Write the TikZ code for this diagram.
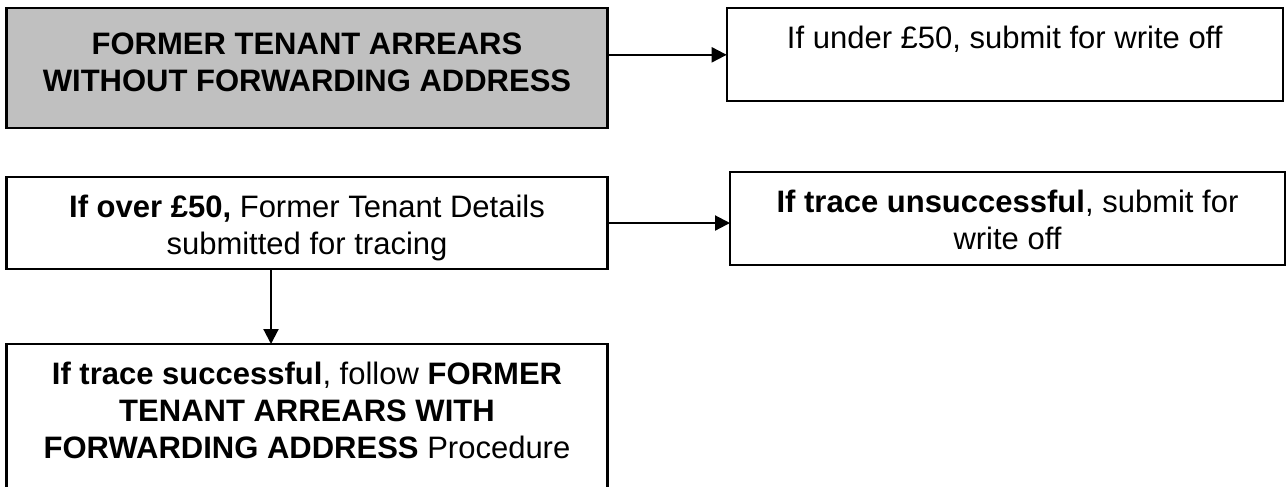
\documentclass[tikz,border=0pt]{standalone}
\usepackage{fontspec}
\setmainfont{Liberation Sans}
\usetikzlibrary{arrows.meta}
\definecolor{boxgray}{RGB}{192, 192, 192}
\newlength{\unit}
\setlength{\unit}{0.387pt}
\newcommand{\boxtext}[4][40\unit]{\parbox[c][#3][t]{#2}{\centering\rule{0pt}{#1}#4}}

\begin{document}
\begin{tikzpicture}[x=\unit, y=-\unit, line width=0.8pt,
    >={Triangle[length=5.8pt, width=5.8pt]},
    box/.style={draw, inner sep=0pt, outer sep=0pt, anchor=north west,
      font=\fontsize{12}{14.32}\selectfont}]
  \useasboundingbox (0,0) rectangle (1286,486);
  \clip (0,0) rectangle (1286,486);

  \node[box, fill=boxgray] (A) at (6.5,8.3) {\boxtext[46\unit]{601\unit}{119.5\unit}{\textbf{FORMER TENANT ARREARS}\\\textbf{WITHOUT FORWARDING ADDRESS}}};
  \node[box] (B) at (726.7,8.3) {\boxtext{556\unit}{93\unit}{If under £50, submit for write off}};

  \node[box] (C) at (6.5,177) {\boxtext{601\unit}{92\unit}{\textbf{If over £50,} Former Tenant Details\\submitted for tracing}};
  \node[box] (D) at (730,172) {\boxtext{555\unit}{93\unit}{\textbf{If trace unsuccessful}, submit for\\write off}};

  % runs on past the bottom of the page
  \node[box] (E) at (6.5,344) {\boxtext{601\unit}{150\unit}{\textbf{If trace successful}, follow \textbf{FORMER}\\\textbf{TENANT ARREARS WITH}\\\textbf{FORWARDING ADDRESS} Procedure}};

  \draw[->] (B.west -| A.east) -- (B.west);
  \draw[->] (C.east) -- (C.east -| D.west);
  \coordinate (split) at ([xshift=-36\unit]C.south);
  \draw[->] (split) -- (split |- E.north);
\end{tikzpicture}
\end{document}
